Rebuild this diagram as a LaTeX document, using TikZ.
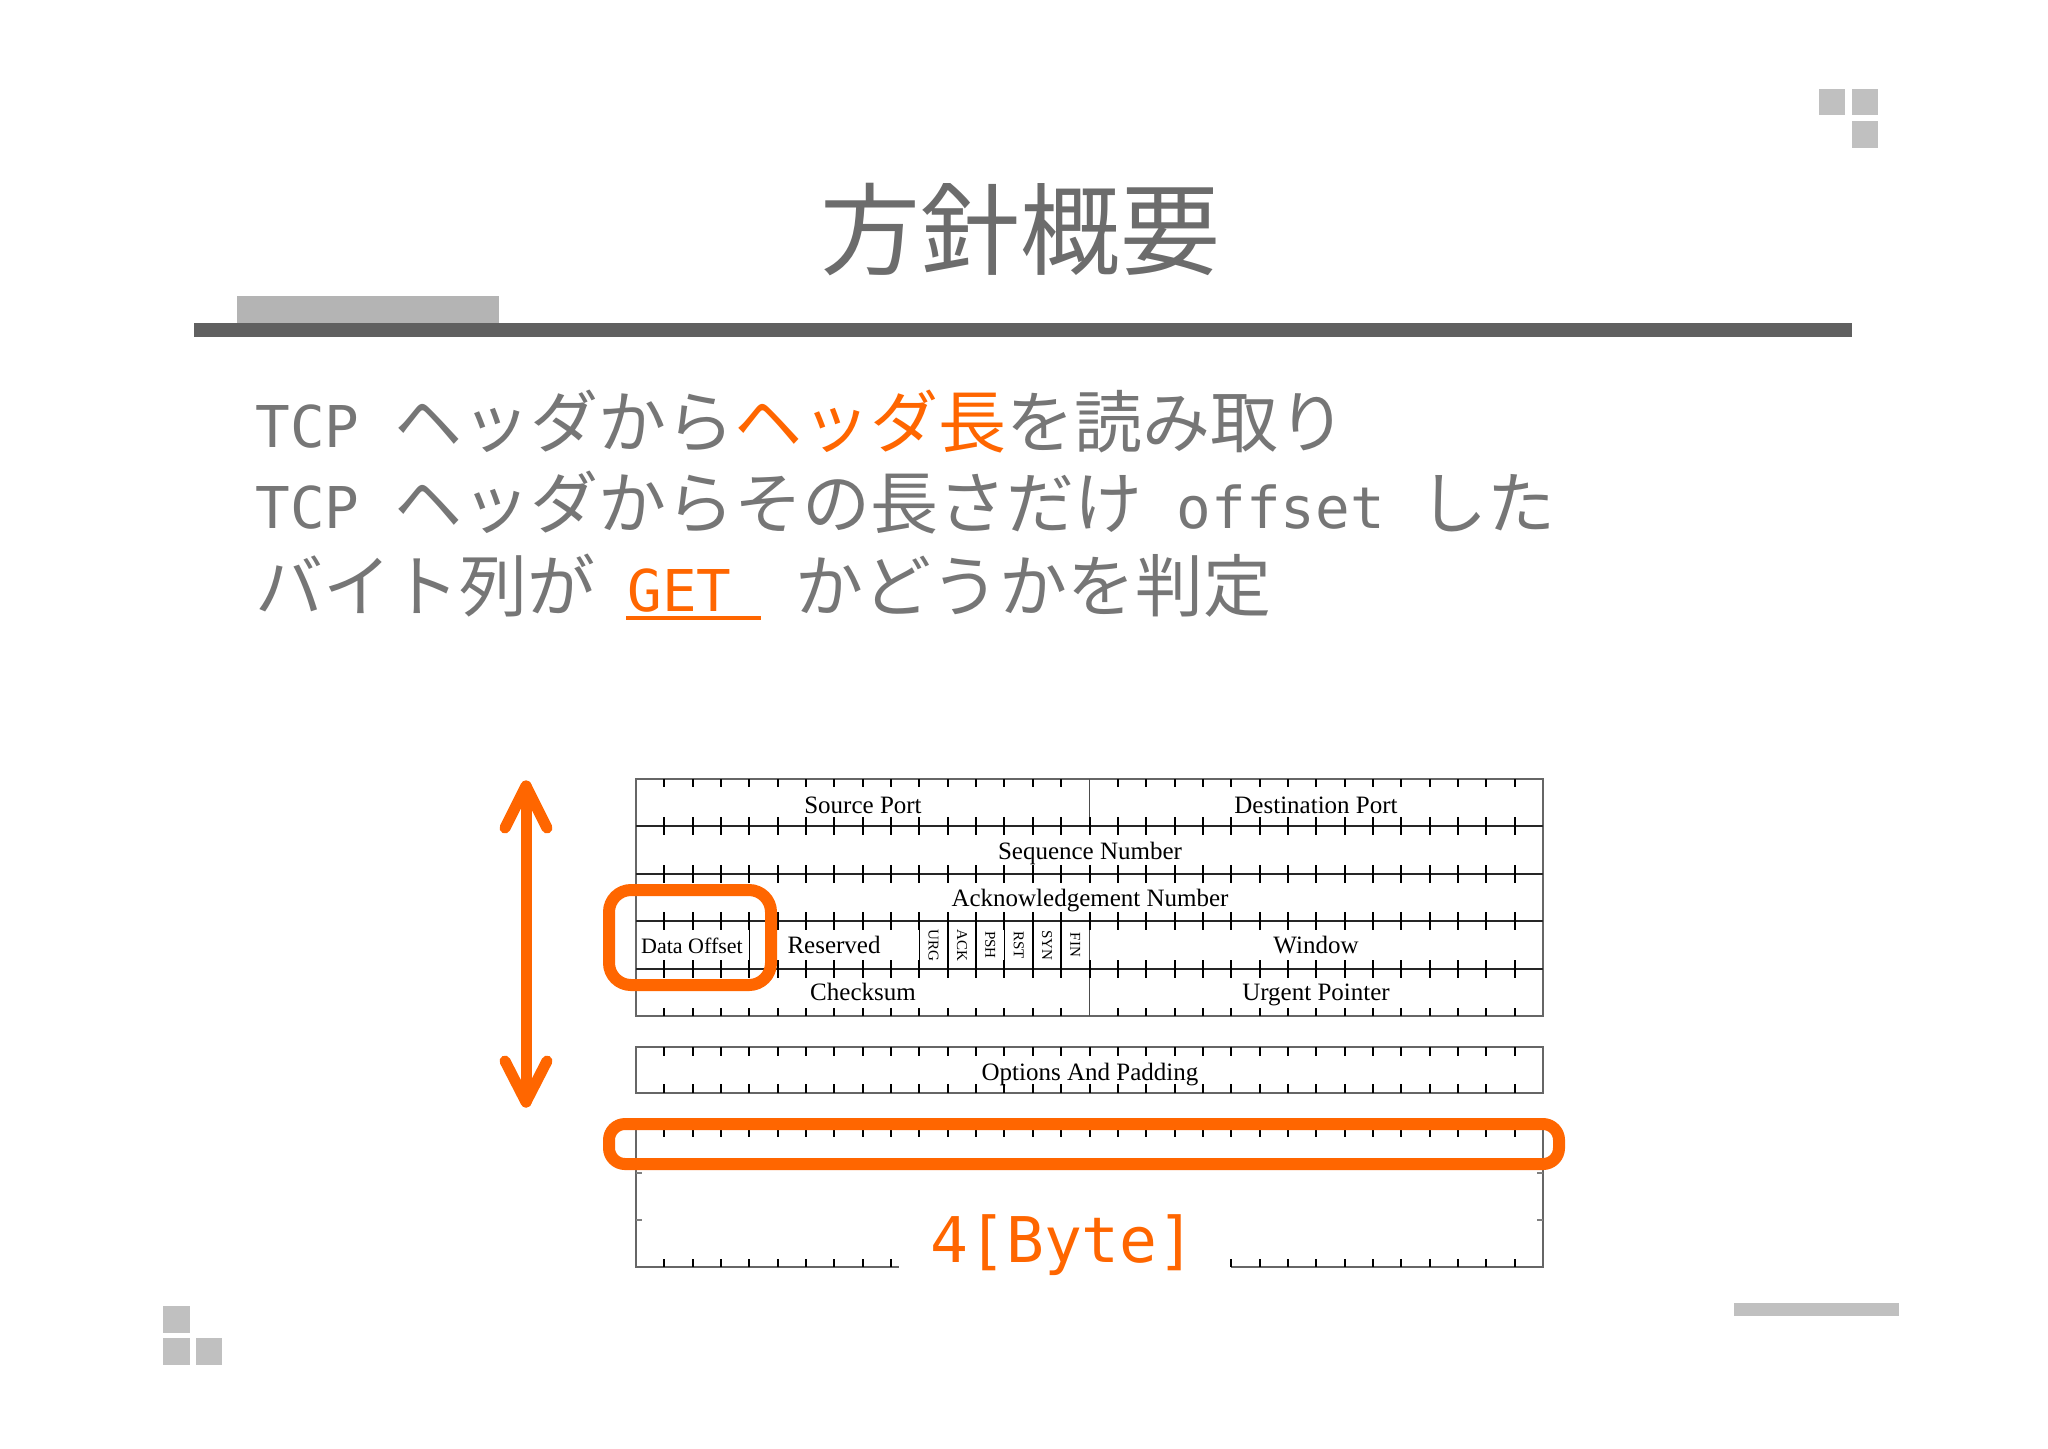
\documentclass[tikz,border=0pt]{standalone}
\usepackage{fontspec}
\newfontfamily\jpf{Noto Sans CJK JP}
\newfontfamily\dmono{DejaVu Sans Mono}
\newfontfamily\tserif{Liberation Serif}
\definecolor{accent}{RGB}{255,102,0}
\definecolor{txtgray}{RGB}{118,118,118}
\definecolor{titlegray}{RGB}{108,108,108}
\definecolor{bargray}{RGB}{96,96,96}
\definecolor{lightblock}{RGB}{180,180,180}
\definecolor{sqgray}{RGB}{192,192,192}
\newcommand\lat[1]{{\dmono\fontsize{28.8}{34}\selectfont #1}}
\tikzset{
  body/.style={anchor=base west, inner sep=0pt, text=txtgray, font=\jpf\fontsize{34}{40}\selectfont},
  lbl/.style={anchor=base, inner sep=0pt, font=\tserif\fontsize{12.5}{14}\selectfont},
  flag/.style={rotate=-90, inner sep=0pt, font=\tserif\fontsize{7.5}{9}\selectfont},
  hline/.style={black!85, line width=0.8pt},
  tk/.style={black, line width=1pt},
  border/.style={black!60, line width=0.7pt},
  hl/.style={accent, line width=6pt, line cap=round, line join=round},
}
\begin{document}
\begin{tikzpicture}[x=0.5pt,y=-0.5pt]
\useasboundingbox (0,0) rectangle (2048,1448);
\fill[white] (0,0) rectangle (2048,1448);
% corner decorations
\fill[sqgray] (1819,89) rectangle (1845,115);
\fill[sqgray] (1852,89) rectangle (1878,115);
\fill[sqgray] (1852,121) rectangle (1878,148);
\fill[sqgray] (163,1306) rectangle (190,1333);
\fill[sqgray] (163,1338) rectangle (190,1365);
\fill[sqgray] (196,1338) rectangle (222,1365);
\fill[sqgray] (1734,1303) rectangle (1899,1316);
% title
\node[inner sep=0pt, text=titlegray, font=\jpf\fontsize{50}{56}\selectfont] (title) at (1020,230) {方針概要};
\fill[lightblock] (237,296) rectangle (499,323);
\fill[bargray] (194,323) rectangle (1852,337);
% body text
\node[body] (l1) at (255,447) {\lat{TCP }ヘッダから\textcolor{accent}{ヘッダ長}を読み取り};
\node[body] (l2) at (255,528) {\lat{TCP }ヘッダからその長さだけ\lat{ offset }した};
\node[body] (l3a) at (255,611) {バイト列が};
\node[body, anchor=base west, text=accent, font=\dmono\fontsize{28.8}{34}\selectfont] (get) at (627,611) {GET};
\coordinate (ulA) at (626,618);
\coordinate (ulB) at (761,618);
\draw[accent, line width=2pt] (ulA) -- (ulB);
\node[body] (l3b) at (795,611) {かどうかを判定};
% ---- TCP header diagram ----
\def\bw{28.344}
% outer box
\draw[border] (636,779) rectangle (1543,1016);
% horizontal internal lines
\draw[hline, line width=0.7pt] (636,826) -- (1543,826);
\foreach \yy in {874,921,969} { \draw[hline, line width=1.1pt] (636,\yy) -- (1543,\yy); }
% vertical dividers
\draw[black!70, line width=0.6pt] ({636+16*\bw},779) -- ({636+16*\bw},826);
\draw[black!70, line width=0.6pt] ({636+16*\bw},921) -- ({636+16*\bw},1016);
\draw[black, line width=0.8pt] ({636+4*\bw},921) -- ({636+4*\bw},969);
\foreach \k in {10,...,15} { \draw[black, line width=0.8pt] ({636+\k*\bw},921) -- ({636+\k*\bw},969); }
% ticks
\foreach \k in {1,...,31} {
  \ifnum\k=16\relax\else
    \draw[tk] ({636+\k*\bw},779) -- ({636+\k*\bw},787);
    \draw[tk] ({636+\k*\bw},1008) -- ({636+\k*\bw},1016);
  \fi
  \foreach \yy in {826,874,921,969} { \draw[tk] ({636+\k*\bw},{\yy-9}) -- ({636+\k*\bw},{\yy+9}); }
}
% labels
\node[lbl] (srcport) at (863,813) {Source Port};
\node[lbl] (dstport) at (1316,813) {Destination Port};
\node[lbl] (seqnum) at (1090,859) {Sequence Number};
\node[lbl] (acknum) at (1090,906) {Acknowledgement Number};
\node[lbl, font=\tserif\fontsize{11}{13}\selectfont] (doff) at (692,953) {Data Offset};
\node[lbl] (resv) at (834,953) {Reserved};
\foreach \nm [count=\i from 10] in {URG,ACK,PSH,RST,SYN,FIN} {
  \node[flag] (flag\nm) at ({636+(\i+0.5)*\bw},945) {\nm};
}
\node[lbl] (window) at (1316,953) {Window};
\node[lbl] (cksum) at (863,1000) {Checksum};
\node[lbl] (urgptr) at (1316,1000) {Urgent Pointer};
% options box
\draw[border] (636,1047) rectangle (1543,1093);
\foreach \k in {1,...,31} {
  \draw[tk] ({636+\k*\bw},1047) -- ({636+\k*\bw},1056);
  \draw[tk] ({636+\k*\bw},1084) -- ({636+\k*\bw},1093);
}
\node[lbl] (opts) at (1090,1080) {Options And Padding};
% data box
\draw[border] (636,1126) rectangle (1543,1162);
\foreach \k in {1,...,31} { \draw[tk] ({636+\k*\bw},1126) -- ({636+\k*\bw},1137); }
% lower box
\draw[border] (636,1162) -- (636,1267) -- (899,1267);
\draw[border] (1543,1162) -- (1543,1267) -- (1231,1267);
\foreach \k in {1,...,9,21,22,...,31} { \draw[tk] ({636+\k*\bw},1259) -- ({636+\k*\bw},1267); }
\foreach \yy in {1173,1220} {
  \draw[black!50, line width=0.8pt] (636,\yy) -- (642,\yy);
  \draw[black!50, line width=0.8pt] (1543,\yy) -- (1537,\yy);
}
\node[anchor=base, inner sep=0pt, text=accent, font=\dmono\fontsize{31.5}{36}\selectfont] (bytes) at (1063,1262) {4[Byte]};
% orange highlights
\draw[hl, rounded corners=11pt] (609,890) rectangle (771,985);
\draw[hl, rounded corners=8pt] (609,1124) rectangle (1559,1164);
\coordinate (arTop) at (526,786);
\coordinate (arBot) at (526,1102);
\draw[hl, line width=5.5pt] (arTop) -- (arBot);
\draw[hl, line width=5.5pt] (505,828) -- (arTop) -- (547,828);
\draw[hl, line width=5.5pt] (505,1061) -- (arBot) -- (547,1061);
\end{tikzpicture}
\end{document}
